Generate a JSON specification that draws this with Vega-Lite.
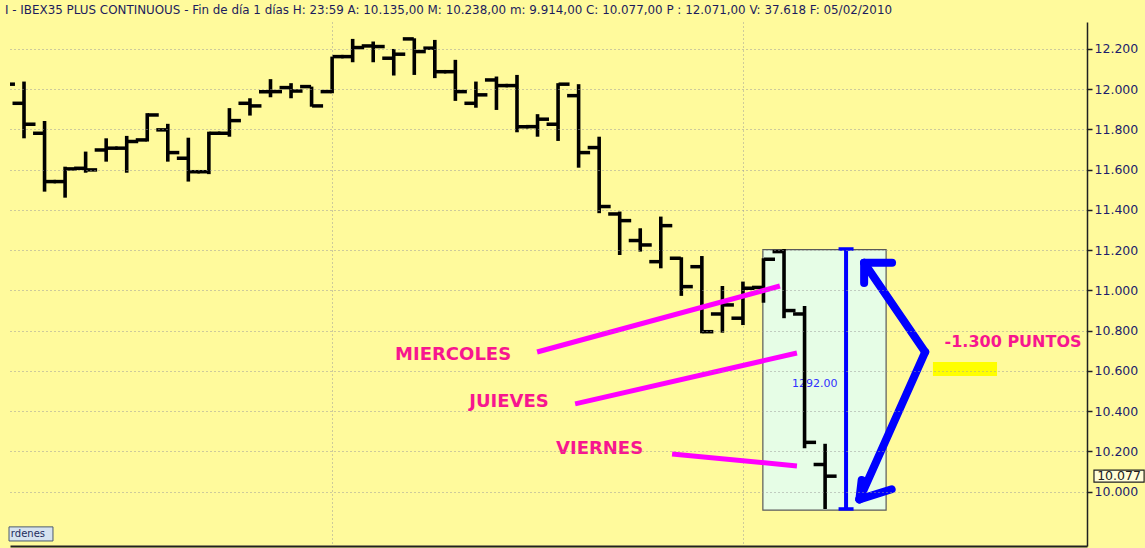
{
  "$schema": "https://vega.github.io/schema/vega-lite/v6.json",
  "width": 1077,
  "height": 524,
  "autosize": {"type": "none"},
  "padding": {"left": 10, "top": 22, "right": 58, "bottom": 2},
  "background": "#fffa9c",
  "title": {
    "text": "I - IBEX35 PLUS CONTINUOUS - Fin de día 1 días H: 23:59 A: 10.135,00 M: 10.238,00 m: 9.914,00 C: 10.077,00 P : 12.071,00 V: 37.618 F: 05/02/2010",
    "anchor": "start", "frame": "group", "dx": -5, "offset": 5,
    "font": "DejaVu Sans", "fontSize": 11.9, "fontWeight": "normal", "color": "#1c1c5c"
  },
  "config": {
    "view": {"fill": "#fffa9c", "stroke": null},
    "tick": {"opacity": 1},
    "locale": {"number": {"decimal": ",", "thousands": ".", "grouping": [3], "currency": ["", " €"]}}
  },
  "datasets": {
    "sesiones": [
      {"fecha": "2009-12-09", "sesion": 0, "apertura": 12040, "maximo": 12070, "minimo": 11980, "cierre": 12025},
      {"fecha": "2009-12-10", "sesion": 1, "apertura": 11930, "maximo": 12038, "minimo": 11756, "cierre": 11826},
      {"fecha": "2009-12-11", "sesion": 2, "apertura": 11781, "maximo": 11842, "minimo": 11491, "cierre": 11541},
      {"fecha": "2009-12-14", "sesion": 3, "apertura": 11541, "maximo": 11615, "minimo": 11461, "cierre": 11604},
      {"fecha": "2009-12-15", "sesion": 4, "apertura": 11607, "maximo": 11690, "minimo": 11585, "cierre": 11599},
      {"fecha": "2009-12-16", "sesion": 5, "apertura": 11698, "maximo": 11756, "minimo": 11640, "cierre": 11707},
      {"fecha": "2009-12-17", "sesion": 6, "apertura": 11707, "maximo": 11768, "minimo": 11585, "cierre": 11740},
      {"fecha": "2009-12-18", "sesion": 7, "apertura": 11748, "maximo": 11881, "minimo": 11740, "cierre": 11872},
      {"fecha": "2009-12-21", "sesion": 8, "apertura": 11798, "maximo": 11828, "minimo": 11640, "cierre": 11685},
      {"fecha": "2009-12-22", "sesion": 9, "apertura": 11657, "maximo": 11759, "minimo": 11541, "cierre": 11590},
      {"fecha": "2009-12-23", "sesion": 10, "apertura": 11590, "maximo": 11789, "minimo": 11578, "cierre": 11781},
      {"fecha": "2009-12-24", "sesion": 11, "apertura": 11781, "maximo": 11906, "minimo": 11764, "cierre": 11844},
      {"fecha": "2009-12-28", "sesion": 12, "apertura": 11930, "maximo": 11955, "minimo": 11869, "cierre": 11917},
      {"fecha": "2009-12-29", "sesion": 13, "apertura": 11988, "maximo": 12050, "minimo": 11960, "cierre": 11988},
      {"fecha": "2009-12-30", "sesion": 14, "apertura": 12008, "maximo": 12030, "minimo": 11955, "cierre": 11991},
      {"fecha": "2009-12-31", "sesion": 15, "apertura": 12013, "maximo": 12013, "minimo": 11913, "cierre": 11917},
      {"fecha": "2010-01-04", "sesion": 16, "apertura": 11988, "maximo": 12162, "minimo": 11980, "cierre": 12162},
      {"fecha": "2010-01-05", "sesion": 17, "apertura": 12162, "maximo": 12250, "minimo": 12134, "cierre": 12207},
      {"fecha": "2010-01-06", "sesion": 18, "apertura": 12215, "maximo": 12237, "minimo": 12134, "cierre": 12212},
      {"fecha": "2010-01-07", "sesion": 19, "apertura": 12154, "maximo": 12200, "minimo": 12068, "cierre": 12174},
      {"fecha": "2010-01-08", "sesion": 20, "apertura": 12250, "maximo": 12253, "minimo": 12071, "cierre": 12187},
      {"fecha": "2010-01-11", "sesion": 21, "apertura": 12204, "maximo": 12245, "minimo": 12055, "cierre": 12087},
      {"fecha": "2010-01-12", "sesion": 22, "apertura": 12087, "maximo": 12146, "minimo": 11942, "cierre": 11988},
      {"fecha": "2010-01-13", "sesion": 23, "apertura": 11930, "maximo": 12038, "minimo": 11908, "cierre": 11972},
      {"fecha": "2010-01-14", "sesion": 24, "apertura": 12046, "maximo": 12063, "minimo": 11897, "cierre": 12018},
      {"fecha": "2010-01-15", "sesion": 25, "apertura": 12018, "maximo": 12071, "minimo": 11786, "cierre": 11814},
      {"fecha": "2010-01-18", "sesion": 26, "apertura": 11814, "maximo": 11876, "minimo": 11764, "cierre": 11851},
      {"fecha": "2010-01-19", "sesion": 27, "apertura": 11826, "maximo": 12030, "minimo": 11743, "cierre": 12025},
      {"fecha": "2010-01-20", "sesion": 28, "apertura": 11968, "maximo": 12025, "minimo": 11610, "cierre": 11685},
      {"fecha": "2010-01-21", "sesion": 29, "apertura": 11710, "maximo": 11764, "minimo": 11384, "cierre": 11417},
      {"fecha": "2010-01-22", "sesion": 30, "apertura": 11380, "maximo": 11392, "minimo": 11176, "cierre": 11347},
      {"fecha": "2010-01-25", "sesion": 31, "apertura": 11248, "maximo": 11309, "minimo": 11193, "cierre": 11226},
      {"fecha": "2010-01-26", "sesion": 32, "apertura": 11143, "maximo": 11367, "minimo": 11110, "cierre": 11322},
      {"fecha": "2010-01-27", "sesion": 33, "apertura": 11160, "maximo": 11165, "minimo": 10973, "cierre": 11019},
      {"fecha": "2010-01-28", "sesion": 34, "apertura": 11118, "maximo": 11171, "minimo": 10787, "cierre": 10795},
      {"fecha": "2010-01-29", "sesion": 35, "apertura": 10883, "maximo": 11022, "minimo": 10790, "cierre": 10928},
      {"fecha": "2010-02-01", "sesion": 36, "apertura": 10862, "maximo": 11044, "minimo": 10828, "cierre": 11011},
      {"fecha": "2010-02-02", "sesion": 37, "apertura": 11015, "maximo": 11160, "minimo": 10939, "cierre": 11155},
      {"fecha": "2010-02-03", "sesion": 38, "apertura": 11193, "maximo": 11206, "minimo": 10862, "cierre": 10900},
      {"fecha": "2010-02-04", "sesion": 39, "apertura": 10883, "maximo": 10923, "minimo": 10216, "cierre": 10245},
      {"fecha": "2010-02-05", "sesion": 40, "apertura": 10135, "maximo": 10238, "minimo": 9914, "cierre": 10077}
    ],
    "caja": [{"desde": 36.97, "hasta": 42.97, "minimo": 9908, "maximo": 11203}],
    "medida": [{"sesion": 41.02, "maximo": 11206, "minimo": 9914}],
    "medida_texto": [{"sesion": 39.5, "valor": 10535, "texto": "1292.00"}],
    "lineas": [
      {"etiqueta": "MIERCOLES", "sesion_a": 25.98, "valor_a": 10694, "sesion_b": 37.8, "valor_b": 11022},
      {"etiqueta": "JUIEVES", "sesion_a": 27.83, "valor_a": 10436, "sesion_b": 38.63, "valor_b": 10689},
      {"etiqueta": "VIERNES", "sesion_a": 32.55, "valor_a": 10187, "sesion_b": 38.63, "valor_b": 10128}
    ],
    "etiquetas_dias": [
      {"texto": "MIERCOLES", "sesion": 21.89, "valor": 10679},
      {"texto": "JUIEVES", "sesion": 24.61, "valor": 10446},
      {"texto": "VIERNES", "sesion": 29.02, "valor": 10212}
    ],
    "etiqueta_puntos": [
      {"texto": "-1.300 PUNTOS", "sesion": 49.15, "valor": 10744}
    ],
    "flechas": [
      {"tramo": "superior", "sesion_a": 41.9, "valor_a": 11137, "sesion_b": 44.87, "valor_b": 10694},
      {"tramo": "inferior", "sesion_a": 44.87, "valor_a": 10694, "sesion_b": 41.67, "valor_b": 9962},
      {"tramo": "punta sup. 1", "sesion_a": 41.9, "valor_a": 11137, "sesion_b": 43.26, "valor_b": 11137},
      {"tramo": "punta sup. 2", "sesion_a": 41.9, "valor_a": 11137, "sesion_b": 41.9, "valor_b": 11037},
      {"tramo": "punta inf. 1", "sesion_a": 41.67, "valor_a": 9962, "sesion_b": 41.78, "valor_b": 10058},
      {"tramo": "punta inf. 2", "sesion_a": 41.67, "valor_a": 9962, "sesion_b": 43.24, "valor_b": 10012}
    ],
    "marca": [{"desde": 45.25, "hasta": 48.37, "minimo": 10575, "maximo": 10645}],
    "ultimo": [{"desde": 53.09, "hasta": 55.53, "minimo": 10047, "maximo": 10107, "sesion": 54.31, "valor": 10077, "texto": "10.077"}],
    "boton": [{"desde": 0.27, "hasta": 2.41, "minimo": 9755, "maximo": 9825, "sesion": 0.36, "valor": 9790, "texto": "rdenes"}]
  },
  "layer": [
    {
      "data": {"name": "caja"},
      "mark": {"type": "rect", "fill": "#e6fde6", "stroke": "#5a5a5a", "strokeWidth": 1.2},
      "encoding": {
        "x": {"field": "desde", "type": "quantitative", "title": null,
          "scale": {"domain": [0.318, 52.75], "nice": false, "zero": false},
          "axis": {"values": [16, 36], "grid": true, "gridColor": "#9a9a9a", "gridDash": [1, 3], "gridWidth": 1,
            "labels": false, "ticks": false, "domain": true, "domainColor": "#202020", "domainWidth": 2, "title": null}},
        "x2": {"field": "hasta"},
        "y": {"field": "minimo", "type": "quantitative", "title": null,
          "scale": {"domain": [9730, 12334], "nice": false, "zero": false},
          "axis": {"orient": "right", "zindex": 1,
            "values": [10000, 10200, 10400, 10600, 10800, 11000, 11200, 11400, 11600, 11800, 12000, 12200],
            "labelExpr": "replace(format(datum.value, ','), ',', '.')",
            "grid": true, "gridColor": "#9a9a9a", "gridDash": [1, 3], "gridWidth": 1,
            "domain": true, "domainColor": "#202020", "domainWidth": 1.5,
            "ticks": true, "tickColor": "#202020", "tickSize": 5, "tickWidth": 1.5,
            "labelFont": "DejaVu Sans", "labelFontSize": 12.5, "labelColor": "#1c1c6c", "labelPadding": 2, "title": null}},
        "y2": {"field": "maximo"}
      }
    },
    {
      "data": {"name": "medida_texto"},
      "mark": {"type": "text", "font": "DejaVu Sans", "fontSize": 11, "color": "#3030ff", "align": "center", "baseline": "middle"},
      "encoding": {
        "x": {"field": "sesion", "type": "quantitative", "title": null, "scale": {"domain": [0.318, 52.75], "nice": false, "zero": false}},
        "y": {"field": "valor", "type": "quantitative", "title": null, "scale": {"domain": [9730, 12334], "nice": false, "zero": false}},
        "text": {"field": "texto"}
      }
    },
    {
      "data": {"name": "marca"},
      "mark": {"type": "rect", "fill": "#ffff00"},
      "encoding": {
        "x": {"field": "desde", "type": "quantitative", "title": null, "scale": {"domain": [0.318, 52.75], "nice": false, "zero": false}},
        "x2": {"field": "hasta"},
        "y": {"field": "minimo", "type": "quantitative", "title": null, "scale": {"domain": [9730, 12334], "nice": false, "zero": false}},
        "y2": {"field": "maximo"}
      }
    },
    {
      "data": {"name": "sesiones"},
      "mark": {"type": "rule", "color": "#000000", "strokeWidth": 3.6, "clip": true},
      "encoding": {
        "x": {"field": "sesion", "type": "quantitative", "title": null, "scale": {"domain": [0.318, 52.75], "nice": false, "zero": false}},
        "y": {"field": "minimo", "type": "quantitative", "title": null, "scale": {"domain": [9730, 12334], "nice": false, "zero": false}},
        "y2": {"field": "maximo"}
      }
    },
    {
      "data": {"name": "sesiones"},
      "mark": {"type": "tick", "orient": "horizontal", "color": "#000000", "opacity": 1, "size": 11, "thickness": 3.5, "xOffset": -6, "clip": true},
      "encoding": {
        "x": {"field": "sesion", "type": "quantitative", "title": null, "scale": {"domain": [0.318, 52.75], "nice": false, "zero": false}},
        "y": {"field": "apertura", "type": "quantitative", "title": null, "scale": {"domain": [9730, 12334], "nice": false, "zero": false}}
      }
    },
    {
      "data": {"name": "sesiones"},
      "mark": {"type": "tick", "orient": "horizontal", "color": "#000000", "opacity": 1, "size": 11, "thickness": 3.5, "xOffset": 6, "clip": true},
      "encoding": {
        "x": {"field": "sesion", "type": "quantitative", "title": null, "scale": {"domain": [0.318, 52.75], "nice": false, "zero": false}},
        "y": {"field": "cierre", "type": "quantitative", "title": null, "scale": {"domain": [9730, 12334], "nice": false, "zero": false}}
      }
    },
    {
      "data": {"name": "lineas"},
      "mark": {"type": "rule", "color": "#ff00ff", "strokeWidth": 5, "strokeCap": "butt"},
      "encoding": {
        "x": {"field": "sesion_a", "type": "quantitative", "title": null, "scale": {"domain": [0.318, 52.75], "nice": false, "zero": false}},
        "x2": {"field": "sesion_b"},
        "y": {"field": "valor_a", "type": "quantitative", "title": null, "scale": {"domain": [9730, 12334], "nice": false, "zero": false}},
        "y2": {"field": "valor_b"}
      }
    },
    {
      "data": {"name": "etiquetas_dias"},
      "mark": {"type": "text", "font": "DejaVu Sans", "fontSize": 18, "fontWeight": "bold", "color": "#f7168f", "align": "center", "baseline": "middle"},
      "encoding": {
        "x": {"field": "sesion", "type": "quantitative", "title": null, "scale": {"domain": [0.318, 52.75], "nice": false, "zero": false}},
        "y": {"field": "valor", "type": "quantitative", "title": null, "scale": {"domain": [9730, 12334], "nice": false, "zero": false}},
        "text": {"field": "texto"}
      }
    },
    {
      "data": {"name": "etiqueta_puntos"},
      "mark": {"type": "text", "font": "DejaVu Sans", "fontSize": 16, "fontWeight": "bold", "color": "#f7168f", "align": "center", "baseline": "middle"},
      "encoding": {
        "x": {"field": "sesion", "type": "quantitative", "title": null, "scale": {"domain": [0.318, 52.75], "nice": false, "zero": false}},
        "y": {"field": "valor", "type": "quantitative", "title": null, "scale": {"domain": [9730, 12334], "nice": false, "zero": false}},
        "text": {"field": "texto"}
      }
    },
    {
      "data": {"name": "medida"},
      "mark": {"type": "rule", "color": "#0000ff", "strokeWidth": 4},
      "encoding": {
        "x": {"field": "sesion", "type": "quantitative", "title": null, "scale": {"domain": [0.318, 52.75], "nice": false, "zero": false}},
        "y": {"field": "minimo", "type": "quantitative", "title": null, "scale": {"domain": [9730, 12334], "nice": false, "zero": false}},
        "y2": {"field": "maximo"}
      }
    },
    {
      "data": {"name": "medida"},
      "mark": {"type": "tick", "orient": "horizontal", "color": "#0000ff", "opacity": 1, "size": 15, "thickness": 3.5},
      "encoding": {
        "x": {"field": "sesion", "type": "quantitative", "title": null, "scale": {"domain": [0.318, 52.75], "nice": false, "zero": false}},
        "y": {"field": "maximo", "type": "quantitative", "title": null, "scale": {"domain": [9730, 12334], "nice": false, "zero": false}}
      }
    },
    {
      "data": {"name": "medida"},
      "mark": {"type": "tick", "orient": "horizontal", "color": "#0000ff", "opacity": 1, "size": 15, "thickness": 3.5},
      "encoding": {
        "x": {"field": "sesion", "type": "quantitative", "title": null, "scale": {"domain": [0.318, 52.75], "nice": false, "zero": false}},
        "y": {"field": "minimo", "type": "quantitative", "title": null, "scale": {"domain": [9730, 12334], "nice": false, "zero": false}}
      }
    },
    {
      "data": {"name": "flechas"},
      "mark": {"type": "rule", "color": "#0000ff", "strokeWidth": 8, "strokeCap": "round"},
      "encoding": {
        "x": {"field": "sesion_a", "type": "quantitative", "title": null, "scale": {"domain": [0.318, 52.75], "nice": false, "zero": false}},
        "x2": {"field": "sesion_b"},
        "y": {"field": "valor_a", "type": "quantitative", "title": null, "scale": {"domain": [9730, 12334], "nice": false, "zero": false}},
        "y2": {"field": "valor_b"}
      }
    },
    {
      "data": {"name": "ultimo"},
      "mark": {"type": "rect", "fill": "#fffdd8", "stroke": "#202020", "strokeWidth": 1.2},
      "encoding": {
        "x": {"field": "desde", "type": "quantitative", "title": null, "scale": {"domain": [0.318, 52.75], "nice": false, "zero": false}},
        "x2": {"field": "hasta"},
        "y": {"field": "minimo", "type": "quantitative", "title": null, "scale": {"domain": [9730, 12334], "nice": false, "zero": false}},
        "y2": {"field": "maximo"}
      }
    },
    {
      "data": {"name": "ultimo"},
      "mark": {"type": "text", "font": "DejaVu Sans", "fontSize": 12.5, "color": "#202020", "align": "center", "baseline": "middle"},
      "encoding": {
        "x": {"field": "sesion", "type": "quantitative", "title": null, "scale": {"domain": [0.318, 52.75], "nice": false, "zero": false}},
        "y": {"field": "valor", "type": "quantitative", "title": null, "scale": {"domain": [9730, 12334], "nice": false, "zero": false}},
        "text": {"field": "texto"}
      }
    },
    {
      "data": {"name": "boton"},
      "mark": {"type": "rect", "fill": "#d5e2ef", "stroke": "#4a5a70", "strokeWidth": 1},
      "encoding": {
        "x": {"field": "desde", "type": "quantitative", "title": null, "scale": {"domain": [0.318, 52.75], "nice": false, "zero": false}},
        "x2": {"field": "hasta"},
        "y": {"field": "minimo", "type": "quantitative", "title": null, "scale": {"domain": [9730, 12334], "nice": false, "zero": false}},
        "y2": {"field": "maximo"}
      }
    },
    {
      "data": {"name": "boton"},
      "mark": {"type": "text", "font": "DejaVu Sans", "fontSize": 10, "color": "#1c2c5c", "align": "left", "baseline": "middle"},
      "encoding": {
        "x": {"field": "sesion", "type": "quantitative", "title": null, "scale": {"domain": [0.318, 52.75], "nice": false, "zero": false}},
        "y": {"field": "valor", "type": "quantitative", "title": null, "scale": {"domain": [9730, 12334], "nice": false, "zero": false}},
        "text": {"field": "texto"}
      }
    }
  ]
}
